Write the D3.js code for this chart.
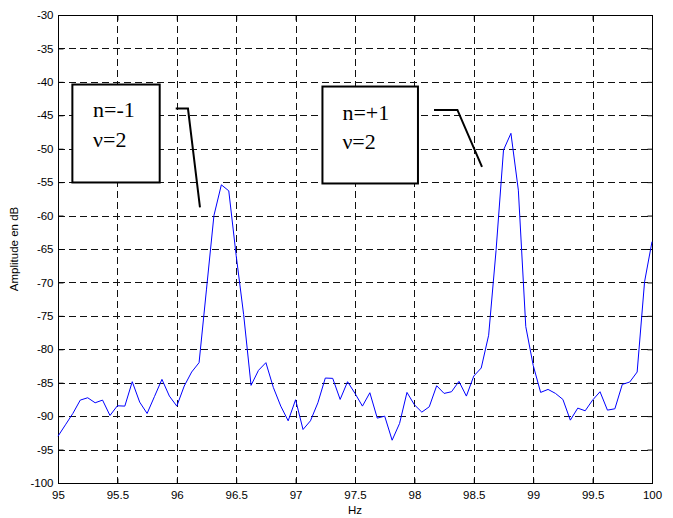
<!DOCTYPE html>
<html>
<head>
<meta charset="utf-8">
<script src="https://cdn.jsdelivr.net/npm/d3@7"></script>
<style>
  body { margin: 0; background: #fff; }
  svg { display: block; }
</style>
</head>
<body>
<svg id="chart" width="673" height="518"></svg>
<script>
// ---- data ----
const freqHz = [
  95, 95.0625, 95.125, 95.1875, 95.25, 95.3125, 95.375, 95.4375,
  95.5, 95.5625, 95.625, 95.6875, 95.75, 95.8125, 95.875, 95.9375,
  96, 96.0625, 96.125, 96.1875, 96.25, 96.3125, 96.375, 96.4375,
  96.5, 96.5625, 96.625, 96.6875, 96.75, 96.8125, 96.875, 96.9375,
  97, 97.0625, 97.125, 97.1875, 97.25, 97.3125, 97.375, 97.4375,
  97.5, 97.5625, 97.625, 97.6875, 97.75, 97.8125, 97.875, 97.9375,
  98, 98.0625, 98.125, 98.1875, 98.25, 98.3125, 98.375, 98.4375,
  98.5, 98.5625, 98.625, 98.6875, 98.75, 98.8125, 98.875, 98.9375,
  99, 99.0625, 99.125, 99.1875, 99.25, 99.3125, 99.375, 99.4375,
  99.5, 99.5625, 99.625, 99.6875, 99.75, 99.8125, 99.875, 99.9375,
  100
];
const amplitudeDb = [
  -93.0, -91.3, -89.6, -87.6, -87.25, -88.0, -87.6, -89.9,
  -88.45, -88.5, -84.85, -87.9, -89.6, -87.05, -84.5, -87.0,
  -88.5, -85.5, -83.4, -82.0, -71.0, -60.0, -55.4, -56.3,
  -66.0, -74.8, -85.4, -83.15, -82.0, -85.7, -88.5, -90.7,
  -87.55, -92.0, -90.7, -88.0, -84.3, -84.35, -87.5, -84.85,
  -86.6, -88.5, -86.5, -90.3, -90.0, -93.6, -91.1, -86.45,
  -88.3, -89.4, -88.6, -85.45, -86.6, -86.35, -84.8, -87.0,
  -84.0, -82.8, -77.9, -65.2, -50.2, -47.7, -56.2, -76.6,
  -82.4, -86.45, -86.0, -86.6, -87.5, -90.6, -88.8, -89.2,
  -87.6, -86.35, -89.1, -88.9, -85.25, -84.9, -83.4, -69.9,
  -63.9
];
const xTicks = [95, 95.5, 96, 96.5, 97, 97.5, 98, 98.5, 99, 99.5, 100];
const yTicks = [-100, -95, -90, -85, -80, -75, -70, -65, -60, -55, -50, -45, -40, -35, -30];
const xTickLabels = ["95", "95.5", "96", "96.5", "97", "97.5", "98", "98.5", "99", "99.5", "100"];
const yTickLabels = ["-100", "-95", "-90", "-85", "-80", "-75", "-70", "-65", "-60", "-55", "-50", "-45", "-40", "-35", "-30"];
const xLabel = "Hz";
const yLabel = "Amplitude en dB";

// annotations (in data coordinates: Hz, dB)
const annoBoxes = [
  { x0: 95.121, x1: 95.856, y0: -40.40, y1: -55.05, lines: ["n=-1", "\u03bd=2"], tx: 95.295, ty: [-45.25, -49.73] },
  { x0: 97.226, x1: 98.030, y0: -40.70, y1: -55.20, lines: ["n=+1", "\u03bd=2"], tx: 97.394, ty: [-45.64, -50.07] }
];
const annoLeaders = [
  [[95.991, -43.99], [96.094, -43.99], [96.195, -58.79]],
  [[98.165, -44.20], [98.362, -44.20], [98.569, -52.72]]
];

// ---- layout ----
const svg = d3.select("#chart");
const mLeft = 58, mRight = 652, mTop = 15, mBottom = 483;
const x = d3.scaleLinear().domain([95, 100]).range([mLeft, mRight]);
const y = d3.scaleLinear().domain([-100, -30]).range([mBottom, mTop]);
const axisFont = "Liberation Sans, Arial, Helvetica, sans-serif";

// grid
const grid = svg.append("g").attr("stroke", "#111").attr("stroke-width", 1)
  .attr("stroke-dasharray", "7,4").attr("fill", "none");
grid.selectAll("line.vx").data(xTicks.slice(1, -1)).join("line")
  .attr("x1", d => Math.round(x(d)) + 0.5).attr("x2", d => Math.round(x(d)) + 0.5)
  .attr("y1", mTop).attr("y2", mBottom);
grid.selectAll("line.hy").data(yTicks.slice(1, -1)).join("line")
  .attr("y1", d => Math.round(y(d)) + 0.5).attr("y2", d => Math.round(y(d)) + 0.5)
  .attr("x1", mLeft).attr("x2", mRight);

// axes
const fmtX = d => xTickLabels[xTicks.indexOf(d)];
const fmtY = d => yTickLabels[yTicks.indexOf(d)];

const gx = svg.append("g").attr("transform", `translate(0,${mBottom + 0.5})`)
  .call(d3.axisBottom(x).tickValues(xTicks).tickFormat(fmtX).tickSize(-5).tickPadding(7));
const gy = svg.append("g").attr("transform", `translate(${mLeft + 0.5},0)`)
  .call(d3.axisLeft(y).tickValues(yTicks).tickFormat(fmtY).tickSize(-5).tickPadding(5));
const gxt = svg.append("g").attr("transform", `translate(0,${mTop + 0.5})`)
  .call(d3.axisTop(x).tickValues(xTicks).tickFormat("").tickSize(-5));
const gyr = svg.append("g").attr("transform", `translate(${mRight + 0.5},0)`)
  .call(d3.axisRight(y).tickValues(yTicks).tickFormat("").tickSize(-5));

[gx, gy, gxt, gyr].forEach(g => {
  g.select(".domain").remove();
  g.selectAll("line").attr("stroke", "#000");
  g.selectAll("text").attr("font-family", axisFont).attr("font-size", "11.5px").attr("fill", "#000");
});

// frame
svg.append("rect")
  .attr("x", mLeft + 0.5).attr("y", mTop + 0.5)
  .attr("width", mRight - mLeft).attr("height", mBottom - mTop)
  .attr("fill", "none").attr("stroke", "#000").attr("stroke-width", 1);

// data line
const line = d3.line().x((d, i) => x(freqHz[i])).y(d => y(d));
svg.append("path")
  .datum(amplitudeDb)
  .attr("d", line)
  .attr("fill", "none")
  .attr("stroke", "#0000ff")
  .attr("stroke-width", 1);

// annotations
annoBoxes.forEach(b => {
  svg.append("rect")
    .attr("x", x(b.x0)).attr("y", y(b.y0))
    .attr("width", x(b.x1) - x(b.x0)).attr("height", y(b.y1) - y(b.y0))
    .attr("fill", "#fff").attr("stroke", "#000").attr("stroke-width", 2);
  b.lines.forEach((t, i) => {
    svg.append("text")
      .attr("x", x(b.tx)).attr("y", y(b.ty[i]))
      .attr("font-family", "Liberation Serif, Times New Roman, serif")
      .attr("font-size", "22px").attr("fill", "#000")
      .text(t);
  });
});
const leader = d3.line().x(d => x(d[0])).y(d => y(d[1]));
annoLeaders.forEach(l => {
  svg.append("path").attr("d", leader(l))
    .attr("fill", "none").attr("stroke", "#000").attr("stroke-width", 2);
});

// axis titles
svg.append("text")
  .attr("x", (mLeft + mRight) / 2).attr("y", 514)
  .attr("text-anchor", "middle")
  .attr("font-family", axisFont).attr("font-size", "11.5px").attr("fill", "#000")
  .text(xLabel);
svg.append("text")
  .attr("transform", `translate(18,${(mTop + mBottom) / 2}) rotate(-90)`)
  .attr("text-anchor", "middle")
  .attr("font-family", axisFont).attr("font-size", "11.5px").attr("fill", "#000")
  .text(yLabel);
</script>
</body>
</html>
